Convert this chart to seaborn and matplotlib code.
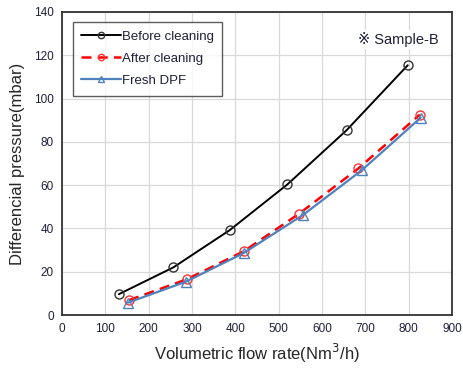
import pandas as pd
import matplotlib
matplotlib.use("Agg")
import matplotlib.pyplot as plt
import seaborn as sns

# --------------------------------------------------------------
# Data
# --------------------------------------------------------------
before_flow = [131, 257, 387, 520, 657, 798]
before_dp = [9.6, 22.0, 39.2, 60.3, 85.4, 115.4]

after_flow = [155, 288, 420, 548, 684, 826]
after_dp = [6.9, 16.5, 29.5, 46.9, 67.7, 92.6]

fresh_flow = [152, 286, 419, 556, 692, 828]
fresh_dp = [5.7, 15.4, 28.6, 46.2, 66.9, 91.2]

x_ticks = list(range(0, 901, 100))
y_ticks = list(range(0, 141, 20))

sns.set_style("white")
plt.rcParams["font.family"] = ["Liberation Sans", "DejaVu Sans"]

fig = plt.figure(figsize=(4.64, 3.70), dpi=100)
ax = fig.add_axes([0.1336, 0.1486, 0.8404, 0.8190])

ax.grid(True, color="#d9d9d9", linewidth=0.9)
ax.set_axisbelow(True)

sns.lineplot(x=before_flow, y=before_dp, ax=ax, color="black", linewidth=1.4,
             marker="o", markersize=6.5, markerfacecolor="none",
             markeredgecolor="#333333", markeredgewidth=1.0,
             label="Before cleaning")
sns.lineplot(x=after_flow, y=after_dp, ax=ax, color="#ff0000", linewidth=1.8,
             linestyle=(0, (4, 2.5)), marker="o", markersize=6.5,
             markerfacecolor="none", markeredgecolor="#ff3333",
             markeredgewidth=1.0, label="After cleaning")
sns.lineplot(x=fresh_flow, y=fresh_dp, ax=ax, color="#4f81bd", linewidth=1.6,
             marker="^", markersize=6.5, markerfacecolor="none",
             markeredgecolor="#4f81bd", markeredgewidth=1.0,
             label="Fresh DPF")

ax.set_xlim(0, 900)
ax.set_ylim(0, 140)
ax.set_xticks(x_ticks)
ax.set_yticks(y_ticks)
ax.tick_params(axis="both", labelsize=8.5, labelcolor="#1f1f3a", length=0, pad=6)

for s in ax.spines.values():
    s.set_color("#333333")
    s.set_linewidth(1.3)

ax.set_xlabel("Volumetric flow rate(Nm$^3$/h)", fontsize=12, labelpad=5)
ax.set_ylabel("Differencial pressure(mbar)", fontsize=12, labelpad=6)

leg = ax.legend(loc="upper left", bbox_to_anchor=(0.028, 0.967), fontsize=9.5,
                frameon=True, fancybox=False, edgecolor="#333333",
                handlelength=3.0, handletextpad=0.05, borderpad=0.65,
                labelspacing=0.75, borderaxespad=0, markerscale=0.7)
leg.get_frame().set_linewidth(1.0)
for t in leg.get_texts():
    t.set_color("#1f1f3a")

ax.text(0.76, 0.91, "\u203b Sample-B", transform=ax.transAxes, fontsize=10.5,
        color="#1f1f3a", ha="left", va="center",
        bbox=dict(facecolor="white", edgecolor="none", pad=1.5))

fig.savefig("out.png", dpi=100)
